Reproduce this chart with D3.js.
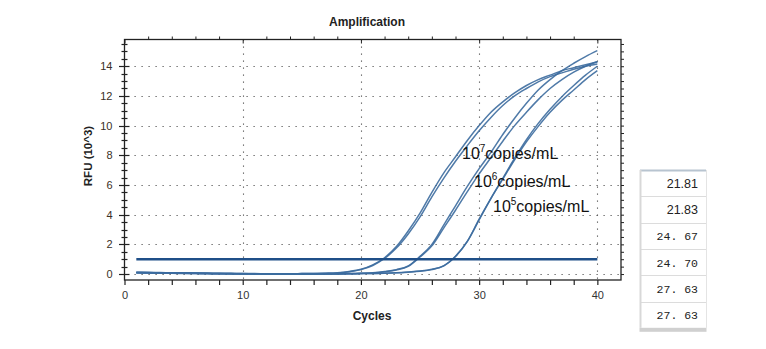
<!DOCTYPE html>
<html>
<head>
<meta charset="utf-8">
<script src="https://cdn.jsdelivr.net/npm/d3@7"></script>
<style>
  body { margin: 0; background: #fff; }
  svg { display: block; }
  .lbl { font-family: "Liberation Sans", Arial, sans-serif; }
</style>
</head>
<body>
<script>
// cycles 1..40
var cycles = d3.range(1, 41);
// RFU (10^3), one array per well
var rfuA1 = [0.12,0.11,0.10,0.09,0.08,0.07,0.06,0.05,0.04,0.03,0.03,0.02,0.02,0.02,0.03,0.04,0.06,0.09,0.17,0.32,0.62,1.10,1.85,2.90,4.10,5.50,6.80,7.90,9.00,10.0,10.9,11.6,12.2,12.7,13.1,13.4,13.7,13.9,14.1,14.3];
var rfuA2 = [0.10,0.10,0.09,0.08,0.07,0.06,0.05,0.04,0.03,0.03,0.02,0.02,0.02,0.02,0.03,0.04,0.05,0.08,0.16,0.30,0.58,1.05,1.75,2.70,3.85,5.20,6.45,7.60,8.65,9.65,10.55,11.35,12.0,12.5,12.95,13.3,13.55,13.8,14.0,14.15];
var rfuB1 = [0.11,0.10,0.09,0.08,0.07,0.06,0.05,0.04,0.03,0.02,0.02,0.01,0.01,0.01,0.01,0.01,0.02,0.02,0.03,0.05,0.09,0.17,0.30,0.55,1.20,2.00,3.30,4.60,5.90,7.10,8.20,9.40,10.5,11.5,12.4,13.1,13.7,14.2,14.65,15.05];
var rfuB2 = [0.10,0.09,0.08,0.07,0.06,0.05,0.04,0.03,0.03,0.02,0.02,0.01,0.01,0.01,0.01,0.01,0.01,0.02,0.03,0.04,0.08,0.16,0.28,0.52,1.15,1.90,3.10,4.30,5.55,6.75,7.85,8.95,10.0,10.9,11.75,12.5,13.1,13.6,14.0,14.3];
var rfuC1 = [0.09,0.08,0.07,0.06,0.05,0.04,0.03,0.02,0.02,0.01,0.01,0.00,0.00,0.00,0.00,0.00,0.01,0.01,0.02,0.03,0.04,0.06,0.09,0.14,0.20,0.32,0.55,1.20,2.20,3.70,5.10,6.40,7.70,8.90,9.95,10.9,11.7,12.4,13.1,13.7];
var rfuC2 = [0.08,0.07,0.06,0.05,0.04,0.03,0.02,0.02,0.01,0.01,0.00,0.00,0.00,0.00,0.00,0.00,0.00,0.01,0.02,0.03,0.04,0.05,0.08,0.13,0.19,0.30,0.55,1.18,2.20,3.65,5.10,6.45,7.80,9.05,10.15,11.1,11.95,12.7,13.4,14.0];
var threshold = 1.0;

var xTicks = [0, 10, 20, 30, 40];
var yTicks = [0, 2, 4, 6, 8, 10, 12, 14];
var labels = [["10", "7", "copies/mL"], ["10", "6", "copies/mL"], ["10", "5", "copies/mL"]];
var ctValues = ["21.81", "21.83", "24. 67", "24. 70", "27. 63", "27. 63"];

var width = 766, height = 349;
var plot = {left: 124.5, right: 621, top: 39.5, bottom: 280};

var svg = d3.select("body").append("svg")
    .attr("width", width)
    .attr("height", height);
svg.append("rect").attr("width", width).attr("height", height).attr("fill", "#fff");

var x = d3.scaleLinear().domain([0, 42]).range([plot.left, plot.right]);
var y = d3.scaleLinear().domain([-0.4, 15.8]).range([plot.bottom, plot.top]);

// dotted grid
var grid = svg.append("g").attr("stroke", "#555").attr("stroke-width", 1.1).attr("stroke-dasharray", "1.2,5.8");
grid.selectAll(".gx").data(xTicks.slice(1)).enter().append("line")
    .attr("x1", function(d) { return Math.round(x(d)) + 0.5; })
    .attr("x2", function(d) { return Math.round(x(d)) + 0.5; })
    .attr("y1", plot.top).attr("y2", plot.bottom);
grid.selectAll(".gy").data(yTicks).enter().append("line")
    .attr("x1", plot.left + 3).attr("x2", plot.right)
    .attr("y1", function(d) { return Math.round(y(d)) + 0.5; })
    .attr("y2", function(d) { return Math.round(y(d)) + 0.5; });

// frame
svg.append("rect")
    .attr("x", plot.left).attr("y", plot.top)
    .attr("width", plot.right - plot.left).attr("height", plot.bottom - plot.top)
    .attr("fill", "none").attr("stroke", "#222").attr("stroke-width", 1.3);

// bottom axis
var minorX = d3.range(0, 42, 2);
var xAxis = d3.axisBottom(x).tickValues(minorX).tickSize(5).tickFormat(function(d) { return xTicks.indexOf(d) >= 0 ? d : ""; });
var gx = svg.append("g").attr("transform", "translate(0," + plot.bottom + ")").call(xAxis);
gx.select(".domain").remove();
gx.selectAll("line").attr("stroke", "#222").attr("stroke-width", 1.2);
gx.selectAll("text").attr("class", "lbl").attr("font-size", 11).attr("fill", "#333").attr("y", 11);

// top axis ticks
var gt = svg.append("g").attr("transform", "translate(0," + plot.top + ")")
    .call(d3.axisTop(x).tickValues(minorX).tickSize(3).tickFormat(""));
gt.select(".domain").remove();
gt.selectAll("line").attr("stroke", "#222");
gt.selectAll(".tick").filter(function(d) { return d % 10 === 0; }).select("line").attr("y2", 4);

// left axis: labels plus crossing ticks
var minorY = d3.range(0, 16, 0.5);
var gy = svg.append("g").attr("transform", "translate(" + plot.left + ",0)")
    .call(d3.axisLeft(y).tickValues(yTicks).tickSize(0).tickPadding(12));
gy.select(".domain").remove();
gy.selectAll("text").attr("class", "lbl").attr("font-size", 11).attr("fill", "#3a3026");
gy.selectAll(".yt").data(minorY).enter().append("line")
    .attr("x1", function(d) { return d % 2 === 0 ? -5.5 : -3; })
    .attr("x2", function(d) { return d % 2 === 0 ? 5 : 3; })
    .attr("y1", function(d) { return Math.round(y(d)) + 0.5; })
    .attr("y2", function(d) { return Math.round(y(d)) + 0.5; })
    .attr("stroke", "#222").attr("stroke-width", 1.2);

// right axis ticks
var gr = svg.append("g").attr("transform", "translate(" + plot.right + ",0)")
    .call(d3.axisRight(y).tickValues(minorY).tickSize(3).tickFormat(""));
gr.select(".domain").remove();
gr.selectAll("line").attr("stroke", "#222");

// titles
svg.append("text").attr("class", "lbl").attr("x", 367).attr("y", 26)
    .attr("text-anchor", "middle").attr("font-size", 12).attr("font-weight", "bold").attr("fill", "#222")
    .text("Amplification");
svg.append("text").attr("class", "lbl").attr("x", 372).attr("y", 320)
    .attr("text-anchor", "middle").attr("font-size", 12).attr("font-weight", "bold").attr("fill", "#222")
    .text("Cycles");
svg.append("text").attr("class", "lbl")
    .attr("transform", "translate(92,156) rotate(-90)")
    .attr("text-anchor", "middle").attr("font-size", 11.5).attr("font-weight", "bold").attr("fill", "#222")
    .text("RFU (10^3)");

// amplification curves
var series = [rfuA1, rfuA2, rfuB1, rfuB2, rfuC1, rfuC2];
var line = d3.line()
    .x(function(d, i) { return x(cycles[i]); })
    .y(function(d) { return y(d); })
    .curve(d3.curveMonotoneX);
svg.append("g").selectAll("path").data(series).enter().append("path")
    .attr("d", line)
    .attr("fill", "none")
    .attr("stroke", "#3c6b9e")
    .attr("stroke-width", 1.5)
    .attr("stroke-opacity", 0.9);

// threshold
svg.append("line")
    .attr("x1", x(cycles[0])).attr("x2", x(cycles[cycles.length - 1]))
    .attr("y1", y(threshold)).attr("y2", y(threshold))
    .attr("stroke", "#1f4f88").attr("stroke-width", 2.5);

// concentration labels
var labelPos = [[462, 159], [474, 187], [493, 212]];
labels.forEach(function(l, i) {
  var t = svg.append("text").attr("class", "lbl")
      .attr("x", labelPos[i][0]).attr("y", labelPos[i][1])
      .attr("font-size", 16).attr("fill", "#111");
  t.append("tspan").text(l[0]);
  t.append("tspan").attr("dy", -7).attr("font-size", 10).text(l[1]);
  t.append("tspan").attr("dy", 7).text(l[2]);
});

// Ct table
var tbl = {left: 640, right: 706, top: 170, rowH: 26.3};
var tg = svg.append("g");
ctValues.forEach(function(v, i) {
  var y0 = tbl.top + i * tbl.rowH;
  tg.append("line").attr("x1", tbl.left).attr("x2", tbl.right)
      .attr("y1", Math.round(y0) + 0.5).attr("y2", Math.round(y0) + 0.5)
      .attr("stroke", i === 0 ? "#b8c4d0" : "#dcdcdc").attr("stroke-width", i === 0 ? 2 : 1);
  tg.append("text")
      .attr("x", 698).attr("y", y0 + tbl.rowH / 2 + 4.5)
      .attr("text-anchor", "end")
      .attr("font-family", i < 2 ? "Liberation Sans, Arial, sans-serif" : "Liberation Mono, monospace")
      .attr("font-size", i < 2 ? 12.5 : 11.5)
      .attr("fill", "#222")
      .style("white-space", "pre")
      .text(v);
});
var tBottom = tbl.top + ctValues.length * tbl.rowH;
tg.append("line").attr("x1", tbl.left + 0.5).attr("x2", tbl.left + 0.5).attr("y1", tbl.top).attr("y2", tBottom)
    .attr("stroke", "#d8d8d8").attr("stroke-width", 2);
tg.append("line").attr("x1", tbl.right + 0.5).attr("x2", tbl.right + 0.5).attr("y1", tbl.top).attr("y2", tBottom)
    .attr("stroke", "#e4e4e4");
tg.append("rect").attr("x", tbl.left - 0.5).attr("y", tBottom).attr("width", tbl.right - tbl.left + 1).attr("height", 4)
    .attr("fill", "#d0d0d0");
</script>
</body>
</html>
